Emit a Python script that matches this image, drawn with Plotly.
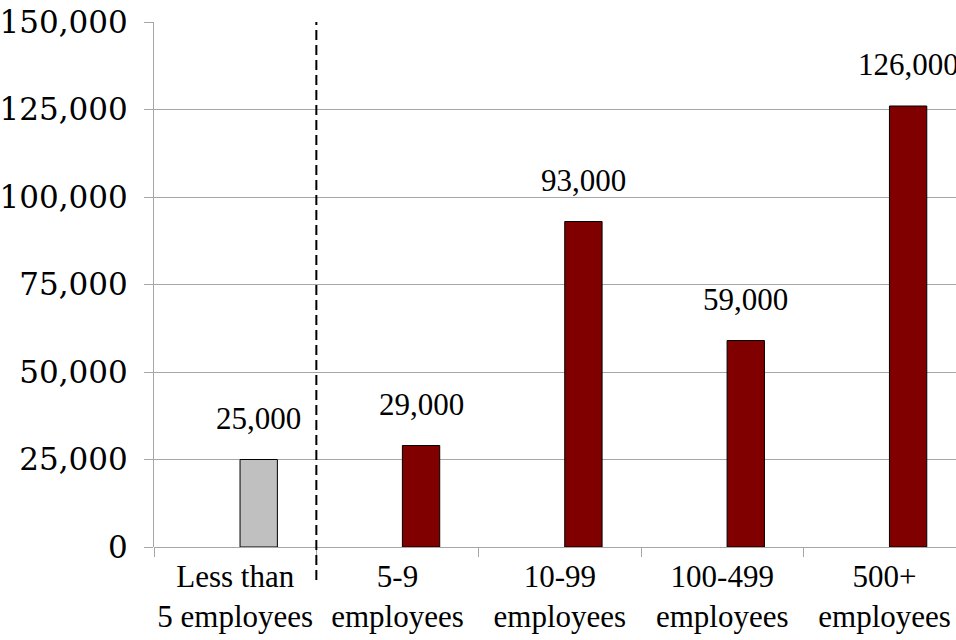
import plotly.graph_objects as go

# Workforce size classes and counts
categories = ["Less than<br>5 employees", "5-9<br>employees", "10-99<br>employees",
              "100-499<br>employees", "500+<br>employees"]
values = [25000, 29000, 93000, 59000, 126000]
value_labels = ["25,000", "29,000", "93,000", "59,000", "126,000"]
bar_colors = ["#C0C0C0", "#800000", "#800000", "#800000", "#800000"]
y_ticks = [0, 25000, 50000, 75000, 100000, 125000, 150000]

GRID = "#A6A6A6"
BAR_SHIFT = 0.145   # bars sit slightly right of their category centre
BAR_WIDTH = 0.23

positions = list(range(len(categories)))
bar_x = [p + BAR_SHIFT for p in positions]
boundaries = [p - 0.5 for p in positions]

fig = go.Figure(go.Bar(
    x=bar_x, y=values, width=BAR_WIDTH,
    marker=dict(color=bar_colors, line=dict(color="black", width=1)),
    hoverinfo="skip",
))
fig.update_layout(width=956, height=640,
                  font=dict(family="Liberation Serif", size=31, color="#000000"))

for bx, v, lab in zip(bar_x, values, value_labels):
    fig.add_annotation(x=bx, y=v, text=lab, showarrow=False, xanchor="center",
                       yanchor="bottom", yshift=22, font=dict(family="Tinos", size=31))

# dashed divider between the smallest size class and the rest
fig.add_shape(type="line", xref="x", yref="paper", x0=0.5, x1=0.5, y0=-0.063, y1=1,
              line=dict(color="black", width=2, dash="10px,5px"))

fig.update_layout(
    margin=dict(l=141, r=0, t=22, b=93),
    paper_bgcolor="white", plot_bgcolor="white",
    showlegend=False,
)
fig.update_xaxes(
    range=[-0.5, 4.44], tickvals=positions, ticktext=categories,
    ticks="", showgrid=False, zeroline=False,
    minor=dict(tickvals=boundaries, ticks="outside", ticklen=9, tickcolor=GRID,
               tickwidth=1, showgrid=False),
    ticklabelstandoff=8,
    tickfont=dict(family="Times New Roman"),
)
fig.update_yaxes(
    range=[0, 150000], tickvals=y_ticks, tickformat=",",
    ticks="outside", ticklen=9, tickcolor=GRID, tickwidth=1,
    showgrid=True, gridcolor=GRID, gridwidth=1,
    zeroline=True, zerolinecolor=GRID, zerolinewidth=1,
    showline=True, linecolor=GRID, linewidth=1,
    ticklabelstandoff=10,
    tickfont=dict(family="DejaVu Serif"),
)

fig.write_html("out.html")
